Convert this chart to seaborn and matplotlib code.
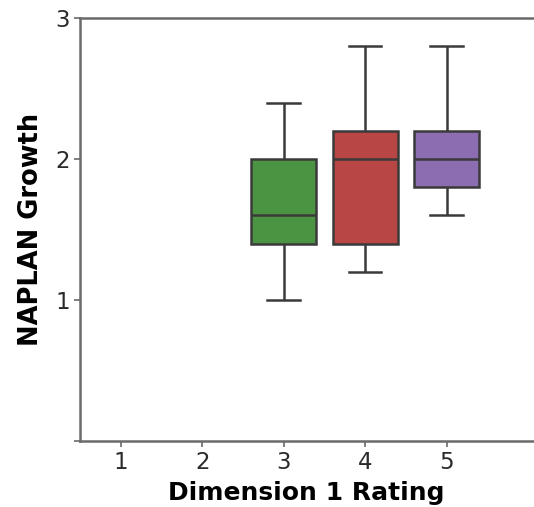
import seaborn as sns
import matplotlib.pyplot as plt
import pandas as pd

# 评分类别（1、2 没有数据）
ratings = ["1", "2", "3", "4", "5"]
# 每个类别的增长值
growth_3 = [1.0, 1.4, 1.6, 2.0, 2.4]
growth_4 = [1.2, 1.4, 2.0, 2.2, 2.8]
growth_5 = [1.6, 1.8, 2.0, 2.2, 2.8]
box_colors = ["#3d6fa6", "#d9843a", "#4b9441", "#b84644", "#8c6db1"]
y_ticks = [0, 1, 2, 3]
y_tick_labels = ["", "1", "2", "3"]


def build_frame():
    rows = []
    for r, vals in zip(["3", "4", "5"], [growth_3, growth_4, growth_5]):
        for v in vals:
            rows.append({"Rating": r, "Growth": v})
    return pd.DataFrame(rows)


def box_plot(df):
    fig = plt.figure(figsize=(5.34, 5.07), dpi=100)
    ax = fig.add_axes([80 / 534, 66 / 507, 453 / 534, 423 / 507])
    sns.boxplot(data=df, x="Rating", y="Growth", hue="Rating",
                order=ratings, hue_order=ratings, palette=box_colors,
                saturation=1, whis=(0, 100), linewidth=1.8,
                linecolor="#3a3a3a", legend=False, ax=ax)
    ax.set_xlim(-0.5, 5.06)
    ax.set_ylim(0, 3)
    ax.set_yticks(y_ticks)
    ax.set_yticklabels(y_tick_labels)
    ax.spines["right"].set_visible(False)
    for s in ["left", "bottom", "top"]:
        ax.spines[s].set_color("#6a6a6a")
        ax.spines[s].set_linewidth(1.8)
    ax.tick_params(labelsize=16.5, length=4, width=1.2,
                   colors="#6a6a6a", labelcolor="#2a2a2a")
    ax.set_xlabel("Dimension 1 Rating", fontsize=18, fontweight="bold", labelpad=5)
    ax.set_ylabel("NAPLAN Growth", fontsize=18.5, fontweight="bold", labelpad=8)
    fig.savefig("out.png", dpi=100)


if __name__ == "__main__":
    df = build_frame()
    box_plot(df)
